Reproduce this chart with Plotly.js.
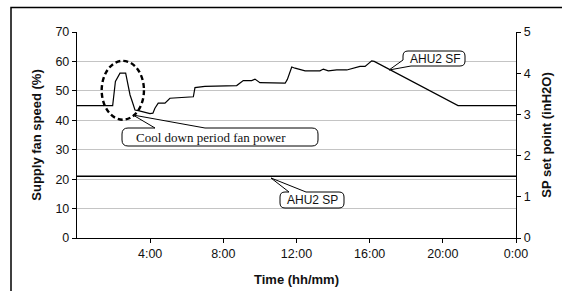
<!DOCTYPE html>
<html>
<head>
<meta charset="utf-8">
<script src="https://cdn.plot.ly/plotly-3.0.1.min.js"></script>
<style>html,body{margin:0;padding:0;background:#fff;}#chart{width:562px;height:291px;}</style>
</head>
<body>
<div id="chart"></div>
<script>
// ---- data ----
const sfHours = [0, 1.95, 2.10, 2.35, 2.66, 2.77, 2.90, 3.02, 3.17, 3.35, 3.99, 4.15, 4.26, 4.44, 4.81, 5.08, 6.06, 6.36, 6.45, 6.99, 8.73, 9.09, 9.55, 9.73, 10.0, 11.38, 11.50, 11.74, 11.92, 12.10, 12.47, 13.28, 13.47, 13.74, 14.2, 14.75, 15.47, 15.75, 16.11, 16.25, 20.83, 24];
const sfSpeed = [45, 45, 53.2, 56, 56, 52.6, 48.6, 46.4, 43.5, 43.3, 42.3, 42.4, 44.1, 45.8, 45.8, 47.5, 47.8, 48.0, 51.1, 51.5, 51.8, 53.5, 53.5, 54.0, 52.8, 52.6, 53.9, 58.1, 57.7, 57.4, 56.8, 56.8, 57.4, 56.8, 57.1, 57.1, 58.3, 58.3, 60.2, 60.0, 45, 45];
const spHours = [0, 24];
const spSetPoint = [1.5, 1.5];
const xTickVals = [4, 8, 12, 16, 20, 24];
const xTickText = ['4:00', '8:00', '12:00', '16:00', '20:00', '0:00'];
const labelSF = 'AHU2 SF';
const labelSP = 'AHU2 SP';
const labelCool = 'Cool down period fan power';

// ---- layout helpers (pixel -> paper) ----
const L = 77, R = 46, T = 32, B = 53, W = 562, H = 291;
const pw = W - L - R, ph = H - T - B;
const px = x => (x - L) / pw;
const py = y => (H - B - y) / ph;
function pathFrom(segs) {
  return segs.map(s => {
    if (s[0] === 'Z') return 'Z';
    if (s[0] === 'Q') return 'Q' + px(s[1]) + ',' + py(s[2]) + ' ' + px(s[3]) + ',' + py(s[4]);
    return s[0] + px(s[1]) + ',' + py(s[2]);
  }).join(' ');
}
// rounded box, wedge on top edge
function calloutTop(x0, y0, x1, y1, r, bA, bB, ax, ay) {
  return pathFrom([
    ['M', x0 + r, y0], ['L', bA, y0], ['L', ax, ay], ['L', bB, y0], ['L', x1 - r, y0],
    ['Q', x1, y0, x1, y0 + r], ['L', x1, y1 - r], ['Q', x1, y1, x1 - r, y1],
    ['L', x0 + r, y1], ['Q', x0, y1, x0, y1 - r], ['L', x0, y0 + r], ['Q', x0, y0, x0 + r, y0], ['Z']
  ]);
}
// rounded box, wedge from lower-left corner
function calloutLeft(x0, y0, x1, y1, r, ax, ay) {
  return pathFrom([
    ['M', x0 + r, y0], ['L', x1 - r, y0],
    ['Q', x1, y0, x1, y0 + r], ['L', x1, y1 - r], ['Q', x1, y1, x1 - r, y1],
    ['L', x0 + 8, y1], ['L', ax, ay], ['L', x0, y1 - 6],
    ['L', x0, y0 + r], ['Q', x0, y0, x0 + r, y0], ['Z']
  ]);
}

const font = 'Liberation Sans, Arial, sans-serif';
const titleFont = {family: font, size: 13, color: '#111'};

const traces = [
  {x: sfHours, y: sfSpeed, type: 'scatter', mode: 'lines', line: {color: '#000', width: 1.2}, yaxis: 'y', hoverinfo: 'skip', showlegend: false},
  {x: spHours, y: spSetPoint, type: 'scatter', mode: 'lines', line: {color: '#000', width: 1.4}, yaxis: 'y2', hoverinfo: 'skip', showlegend: false}
];

const layout = {
  width: W, height: H,
  margin: {l: L, r: R, t: T, b: B},
  paper_bgcolor: '#fff', plot_bgcolor: '#fff',
  showlegend: false,
  font: {family: font, size: 12.5, color: '#111'},
  xaxis: {
    range: [0, 24], tickvals: xTickVals, ticktext: xTickText,
    showgrid: false, zeroline: false, showline: true, linecolor: '#000', linewidth: 1.2,
    ticks: 'outside', ticklen: 4, tickcolor: '#000',
    title: {text: '<b>Time (hh/mm)</b>', font: titleFont, standoff: 14}
  },
  yaxis: {
    range: [0, 70], dtick: 10,
    showgrid: true, gridcolor: '#c4c4c4', gridwidth: 1, zeroline: false,
    showline: true, linecolor: '#000', linewidth: 1.2,
    ticks: 'outside', ticklen: 4, tickcolor: '#000',
    title: {text: '<b>Supply fan speed (%)</b>', font: titleFont, standoff: 10}
  },
  yaxis2: {
    range: [0, 5], dtick: 1, overlaying: 'y', side: 'right',
    showgrid: false, zeroline: false, showline: true, linecolor: '#000', linewidth: 1.2,
    ticks: 'outside', ticklen: 4, tickcolor: '#000',
    title: {text: '<b>SP set point (inH2O)</b>', font: titleFont, standoff: 12}
  },
  shapes: [
    {type: 'rect', xref: 'paper', yref: 'paper', x0: px(11), x1: px(600), y0: py(7.5), y1: py(330), line: {color: '#000', width: 1.5}, fillcolor: 'rgba(0,0,0,0)', layer: 'below'},
    {type: 'circle', xref: 'x', yref: 'y', x0: 1.35, x1: 3.66, y0: 40.2, y1: 60.2, line: {color: '#000', width: 2.4, dash: '5px,3px'}},
    {type: 'path', xref: 'paper', yref: 'paper', path: calloutTop(122, 128, 318, 146, 6, 155, 205, 133, 115), line: {color: '#000', width: 1}, fillcolor: '#fff'},
    {type: 'path', xref: 'paper', yref: 'paper', path: calloutLeft(403, 51, 465, 66, 5, 389, 70), line: {color: '#000', width: 1}, fillcolor: '#fff'},
    {type: 'path', xref: 'paper', yref: 'paper', path: calloutTop(280, 192, 344, 208, 5, 289, 306, 271, 178), line: {color: '#000', width: 1}, fillcolor: '#fff'}
  ],
  annotations: [
    {xref: 'paper', yref: 'paper', x: px(211), y: py(137.5), text: labelCool, showarrow: false, font: {family: 'Liberation Serif, Times New Roman, serif', size: 13, color: '#111'}, xanchor: 'center', yanchor: 'middle'},
    {xref: 'paper', yref: 'paper', x: px(435), y: py(58.5), text: labelSF, showarrow: false, font: {family: font, size: 12, color: '#111'}, xanchor: 'center', yanchor: 'middle'},
    {xref: 'paper', yref: 'paper', x: px(312), y: py(200), text: labelSP, showarrow: false, font: {family: font, size: 12, color: '#111'}, xanchor: 'center', yanchor: 'middle'}
  ]
};

Plotly.newPlot('chart', traces, layout, {staticPlot: true, displayModeBar: false});
</script>
</body>
</html>
